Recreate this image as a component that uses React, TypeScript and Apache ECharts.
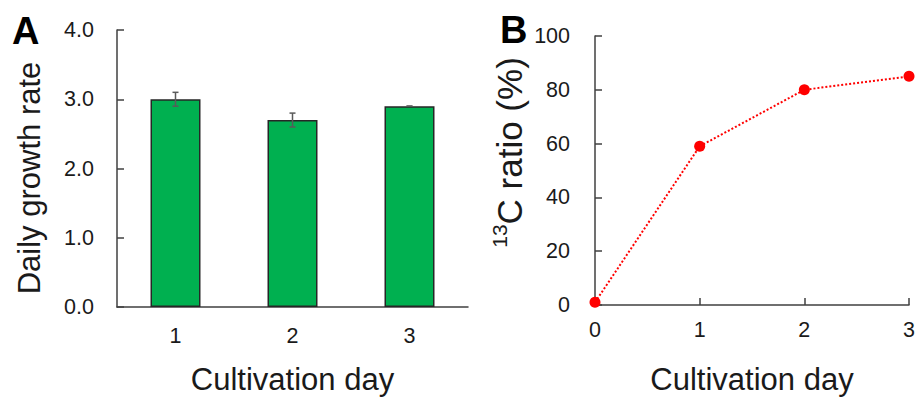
import React, { useEffect, useRef } from "react";
import * as echarts from "echarts";

const daysA = ["1", "2", "3"];
const growthRate = [3.0, 2.7, 2.9];
const growthErr = [0.1, 0.1, 0.0];

const daysB = [0, 1, 2, 3];
const c13Ratio = [1, 59, 80, 85];

const axisColor = "#404040";
const textColor = "#1a1a1a";
const font = "Arial, 'Liberation Sans', sans-serif";

export default function App() {
  const ref = useRef<HTMLDivElement>(null);
  useEffect(() => {
    if (!ref.current) return;
    const chart = echarts.init(ref.current, null, { renderer: "svg" });
    const tickLabel = { color: textColor, fontSize: 21.5, fontFamily: font };
    const nameStyle = { color: textColor, fontSize: 31, fontFamily: font };
    chart.setOption({
      animation: false,
      textStyle: { fontFamily: font },
      graphic: [
        { type: "text", left: 12, top: 12, style: { text: "A", fontSize: 38, fontWeight: "bold", fill: "#000", fontFamily: font } },
        { type: "text", left: 500, top: 11, style: { text: "B", fontSize: 38, fontWeight: "bold", fill: "#000", fontFamily: font } },
      ],
      grid: [
        { left: 117, top: 30, width: 351, height: 283 },
        { left: 595, top: 36, width: 317, height: 273 },
      ],
      xAxis: [
        {
          gridIndex: 0,
          type: "category",
          data: daysA,
          axisLine: { lineStyle: { color: axisColor, width: 1.5 } },
          axisTick: { inside: true, length: 7, lineStyle: { color: axisColor, width: 1.5 } },
          axisLabel: { ...tickLabel, margin: 18 },
          name: "Cultivation day",
          nameLocation: "middle",
          nameGap: 57,
          nameTextStyle: nameStyle,
        },
        {
          gridIndex: 1,
          type: "value",
          min: 0,
          max: 3,
          interval: 1,
          splitLine: { show: false },
          axisLine: { lineStyle: { color: axisColor, width: 1.5 } },
          axisTick: { inside: true, length: 7, lineStyle: { color: axisColor, width: 1.5 } },
          axisLabel: { ...tickLabel, margin: 14 },
          name: "Cultivation day",
          nameLocation: "middle",
          nameGap: 59,
          nameTextStyle: nameStyle,
        },
      ],
      yAxis: [
        {
          gridIndex: 0,
          type: "value",
          min: 0,
          max: 4,
          interval: 1,
          splitLine: { show: false },
          axisLine: { show: true, lineStyle: { color: axisColor, width: 1.5 } },
          axisTick: { show: true, inside: true, length: 7, lineStyle: { color: axisColor, width: 1.5 } },
          axisLabel: { ...tickLabel, margin: 23, formatter: (v: number) => v.toFixed(1) },
          name: "Daily growth rate",
          nameLocation: "middle",
          nameGap: 72,
          nameTextStyle: { ...nameStyle, padding: [0, 19, 0, 0] },
        },
        {
          gridIndex: 1,
          type: "value",
          min: 0,
          max: 100,
          interval: 20,
          splitLine: { show: false },
          axisLine: { show: true, lineStyle: { color: axisColor, width: 1.5 } },
          axisTick: { show: true, inside: true, length: 7, lineStyle: { color: axisColor, width: 1.5 } },
          axisLabel: { ...tickLabel, margin: 25 },
          name: "{sup|13}C ratio (%)",
          nameLocation: "middle",
          nameGap: 66,
          nameTextStyle: {
            ...nameStyle,
            fontSize: 35,
            padding: [0, 0, 0, 36],
            rich: {
              sup: { fontSize: 21, color: textColor, fontFamily: font, verticalAlign: "top", lineHeight: 40 },
            },
          },
        },
      ],
      series: [
        {
          type: "bar",
          xAxisIndex: 0,
          yAxisIndex: 0,
          data: growthRate,
          barWidth: 50,
          itemStyle: { color: "#00B050", borderColor: "#262626", borderWidth: 1.5 },
        },
        {
          type: "custom",
          xAxisIndex: 0,
          yAxisIndex: 0,
          data: growthRate.map((v, i) => [i, v - growthErr[i], v + growthErr[i]]),
          renderItem: (params: any, api: any) => {
            const x = api.value(0);
            const lo = api.coord([x, api.value(1)]);
            const hi = api.coord([x, api.value(2)]);
            const cap = 3;
            const style = { stroke: "#5a5a5a", lineWidth: 1.5 };
            return {
              type: "group",
              children: [
                { type: "line", shape: { x1: lo[0], y1: lo[1], x2: hi[0], y2: hi[1] }, style },
                { type: "line", shape: { x1: hi[0] - cap, y1: hi[1], x2: hi[0] + cap, y2: hi[1] }, style },
                { type: "line", shape: { x1: lo[0] - cap, y1: lo[1], x2: lo[0] + cap, y2: lo[1] }, style },
              ],
            };
          },
          z: 5,
        },
        {
          type: "line",
          xAxisIndex: 1,
          yAxisIndex: 1,
          data: daysB.map((d, i) => [d, c13Ratio[i]]),
          symbol: "circle",
          symbolSize: 11,
          itemStyle: { color: "#ff0000" },
          lineStyle: { color: "#ff0000", width: 2, type: [2, 2] },
          clip: false,
          z: 5,
        },
      ],
    });
    return () => chart.dispose();
  }, []);
  return <div ref={ref} style={{ width: 918, height: 400, position: "absolute", left: 0, top: 0 }} />;
}
